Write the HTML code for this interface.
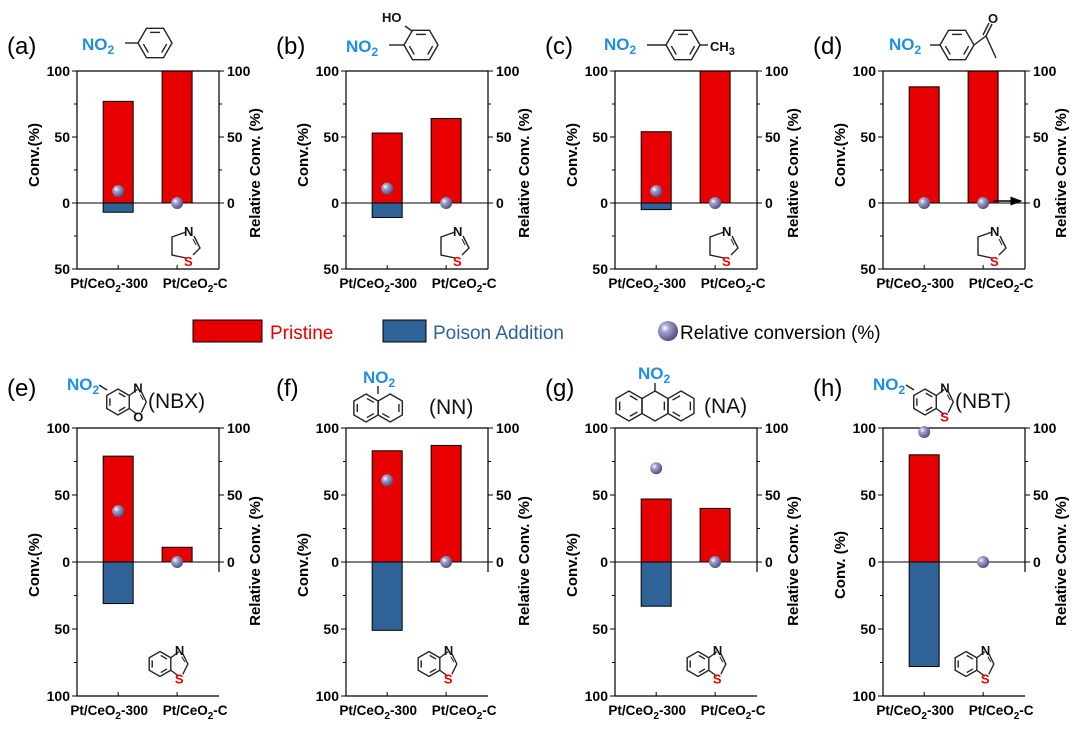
<!DOCTYPE html>
<html><head><meta charset="utf-8"><style>
body{margin:0;background:#fff}
svg{display:block;font-family:"Liberation Sans",Arial,sans-serif}
.tk{font-size:14px;font-weight:bold}
.ttl{font-size:15px;font-weight:bold}
.cat{font-size:13.5px;font-weight:bold}
.lbl{font-size:24px}
.no2{font-size:17px;font-weight:bold;fill:#1e8fe6}
.at{font-size:13px;font-weight:bold}
</style></head><body>
<svg id="c" width="1080" height="731" viewBox="0 0 1080 731" xmlns="http://www.w3.org/2000/svg">
<defs>
<radialGradient id="sph" cx="0.35" cy="0.35" r="0.7">
<stop offset="0" stop-color="#ffffff"/><stop offset="0.3" stop-color="#a3a3cc"/><stop offset="1" stop-color="#4a4a80"/>
</radialGradient>
<marker id="arr" markerWidth="8" markerHeight="6" refX="7" refY="3" orient="auto"><path d="M0,0 L8,3 L0,6 z" fill="#000"/></marker>
</defs>
<g id="legend">
<rect x="193" y="320" width="69" height="22" fill="#e60000" stroke="#000" stroke-width="1"/>
<text x="270" y="339" font-size="19" fill="#e60000">Pristine</text>
<rect x="383" y="320" width="43" height="22" fill="#2f6296" stroke="#000" stroke-width="1"/>
<text x="433" y="339" font-size="19" fill="#2f6296">Poison Addition</text>
<circle cx="668" cy="331" r="10" fill="url(#sph)"/>
<text x="680" y="339" font-size="19" fill="#000">Relative conversion (%)</text>
</g>
<g id="plots"></g>
<g id="mols" fill="none" stroke="#222" stroke-width="1.4"></g>
</svg>
<script>
const categories = ["Pt/CeO2-300","Pt/CeO2-C"];
const panelLabels = ["(a)","(b)","(c)","(d)","(e)","(f)","(g)","(h)"];
const pristine = [[77,100],[53,64],[54,100],[88,100],[79,11],[83,87],[47,40],[80,0]];
const poison = [[7,0],[11,0],[5,0],[0,0],[31,0],[51,0],[33,0],[78,0]];
const relative = [[9,0],[11,0],[9,0],[0,0],[38,0],[61,0],[70,0],[97,0]];
const topTicks = [100,50,0,-50];
const botTicks = [100,50,0,-50,-100];
const rightTicks = [100,50,0];

const NS="http://www.w3.org/2000/svg";
const plots=document.getElementById('plots');
function mk(tag,attrs,parent){const e=document.createElementNS(NS,tag);for(const k in attrs)e.setAttribute(k,attrs[k]);(parent||plots).appendChild(e);return e;}
const lefts=[77,346,615,883];
for(let p=0;p<8;p++){
  const row=p<4?0:1;
  const L=lefts[p%4], W=142, R=L+W;
  const top=row?428:71, zero=row?562:203, sc=row?1.34:1.32, ymin=row?-100:-50;
  const bottom=zero-ymin*sc;
  const y=v=>zero-v*sc;
  const x=i=>L+W*(0.29+0.415*i);
  const g=mk('g',{});
  
  
  const pl=mk('text',{x:L-70,y:row?396:54,class:'lbl'},g);pl.textContent=panelLabels[p];
  
  
  for(let i=0;i<2;i++){
    const bw=30;
    if(pristine[p][i]>0){const b=mk('rect',{x:x(i)-bw/2,y:y(pristine[p][i]),width:bw,height:pristine[p][i]*sc,fill:'#e60000',stroke:'#000','stroke-width':1},g);
      
      }
    if(poison[p][i]>0){const b=mk('rect',{x:x(i)-bw/2,y:zero,width:bw,height:poison[p][i]*sc,fill:'#2f6296',stroke:'#000','stroke-width':1},g);
      
      }
  }
  mk('line',{x1:L,x2:R,y1:zero,y2:zero,stroke:'#000','stroke-width':1},g);
  const rb=row?zero+10:bottom;
  mk('path',{d:`M${L},${top} L${R},${top} M${L},${top} L${L},${bottom} L${R},${bottom}`,fill:'none',stroke:'#000','stroke-width':1.2},g);
  mk('line',{x1:R,x2:R,y1:top,y2:rb,stroke:'#000','stroke-width':1.2},g);
  const ticks=row?botTicks:topTicks;
  for(let v=ymin;v<=100;v+=25){const major=v%50===0;
    mk('line',{x1:L-(major?5:3),x2:L,y1:y(v),y2:y(v),stroke:'#000','stroke-width':1},g);
    if(v>=0)mk('line',{x1:R,x2:R+(major?5:3),y1:y(v),y2:y(v),stroke:'#000','stroke-width':1},g);}
  ticks.forEach(v=>{const t=mk('text',{x:L-7,y:y(v)+5,class:'tk','text-anchor':'end'},g);t.textContent=Math.abs(v);
    
    });
  rightTicks.forEach(v=>{const t=mk('text',{x:R+8,y:y(v)+5,class:'tk'},g);t.textContent=v;
    
    });
  for(let i=0;i<2;i++){
    mk('line',{x1:x(i),x2:x(i),y1:bottom,y2:bottom-4,stroke:'#000'},g);
    const t=mk('text',{x:x(i)+(i?18:-9),y:bottom+19,class:'cat','text-anchor':'middle'},g);
    const parts=categories[i].split('O2');
    t.innerHTML=parts[0]+'O<tspan dy="4" font-size="10">2</tspan><tspan dy="-4">'+parts[1]+'</tspan>';
    
    
    const c=mk('circle',{cx:x(i),cy:y(relative[p][i]),r:6,fill:'url(#sph)'},g);
    
    
  }
  const cy=row?565:155;
  const ly=mk('text',{x:0,y:0,class:'ttl','text-anchor':'middle',transform:`translate(${L-38},${cy}) rotate(-90)`},g);
  ly.textContent=p===7?'Conv. (%)':'Conv.(%)';
  
  
  const ry=mk('text',{x:0,y:0,class:'ttl','text-anchor':'middle',transform:`translate(${R+41},${row?561:173}) rotate(-90)`},g);
  ry.textContent='Relative Conv. (%)';
  
  
  if(p===3)mk('line',{x1:x(1)+10,x2:R-4,y1:zero-2,y2:zero-2,stroke:'#000','stroke-width':1.5,'marker-end':'url(#arr)'},g);
}
// molecules
const mols=document.getElementById('mols');
function ml(tag,a){return mk(tag,a,mols);}
function ring(cx,cy,r,a0,dbl){const pts=[];for(let k=0;k<6;k++){const a=(a0+60*k)*Math.PI/180;pts.push([cx+r*Math.cos(a),cy+r*Math.sin(a)]);}
  ml('polygon',{points:pts.map(q=>q.join(',')).join(' ')});
  (dbl||[]).forEach(k=>{const A=pts[k],B=pts[(k+1)%6];const s=0.72;const f=q=>[cx+(q[0]-cx)*s,cy+(q[1]-cy)*s];const a=f(A),b=f(B);
    ml('line',{x1:a[0]+(b[0]-a[0])*.1,y1:a[1]+(b[1]-a[1])*.1,x2:b[0]-(b[0]-a[0])*.1,y2:b[1]-(b[1]-a[1])*.1});});
  return pts;}
function txt(x,y,s,cls,fill){const t=ml('text',{x:x,y:y,class:cls,stroke:'none',fill:fill||'#111'});t.innerHTML=s;return t;}
const N2='NO<tspan dy="4" font-size="12">2</tspan>';
// (a)
txt(82,50,N2,'no2');ml('line',{x1:125,y1:43,x2:138,y2:43});ring(155,43,17,0,[0,2,4]);
// (b)
txt(346,52,N2,'no2');ml('line',{x1:389,y1:45,x2:404,y2:45});ring(421,45,17,0,[0,2,4]);txt(382,22,'HO','at').setAttribute('font-size','15');ml('line',{x1:405,y1:26,x2:412,y2:31});
// (c)
txt(604,50,N2,'no2');ml('line',{x1:647,y1:45,x2:666,y2:45});ring(683,45,17,0,[0,2,4]);ml('line',{x1:700,y1:45,x2:708,y2:45});
txt(710,51,'CH<tspan dy="4" font-size="11">3</tspan>','at').setAttribute('font-size','16');
// (d)
txt(889,50,N2,'no2');ml('line',{x1:930,y1:45,x2:940,y2:45});ring(957,45,17,0,[0,2,4]);
ml('polyline',{points:'974,45 986,36 996,58'});ml('line',{x1:986,y1:36,x2:992,y2:24});ml('line',{x1:983,y1:35,x2:989,y2:23});txt(988,23,'O','at').setAttribute('font-size','16');
// thiazoline icons top
lefts.forEach(L=>{const o=L-77;ml('polyline',{points:`${186+o},${232} ${172+o},${237} ${172+o},${255} ${186+o},${258}`});
  ml('polyline',{points:`${194+o},${236} ${200+o},${248} ${193+o},${255}`});ml('line',{x1:196+o,y1:245,x2:193+o,y2:239,'stroke-width':1});
  txt(184+o,236,'N','at').setAttribute('font-size','15');txt(184+o,266,'S','at','#e00').setAttribute('font-size','15');});
// benzo-fused 5 ring
function benzo5(cx,cy,r,het,hcol){const pts=ring(cx,cy,r,-90,[0,2,4]);const a=pts[1],b=pts[2];
  ml('polyline',{points:`${a[0]},${a[1]} ${a[0]+8},${a[1]-6}`});ml('polyline',{points:`${b[0]},${b[1]} ${b[0]+8},${b[1]+6}`});
  ml('polyline',{points:`${a[0]+12},${a[1]-4} ${a[0]+17},${cy} ${b[0]+12},${b[1]+4}`});ml('line',{x1:a[0]+14,y1:cy-2,x2:a[0]+11,y2:a[1]-1,'stroke-width':1});
  txt(a[0]+4,a[1]-3,'N','at').setAttribute('font-size','15');txt(b[0]+4,b[1]+13,het,'at',hcol).setAttribute('font-size','15');return pts;}
// (e)
txt(67,390,N2,'no2');ml('line',{x1:99,y1:385,x2:107,y2:390});benzo5(118,402,13,'O','#111');txt(148,408,'(NBX)','').setAttribute('font-size','21');
// (h)
txt(873,390,N2,'no2');ml('line',{x1:906,y1:385,x2:914,y2:390});benzo5(925,402,13,'S','#e00');txt(955,408,'(NBT)','').setAttribute('font-size','21');
// (f) naphthalene
ring(366,408,14,-90,[0,2,4]);ring(390.2,408,14,-90,[1,3]);txt(363,383,N2,'no2');ml('line',{x1:378,y1:386,x2:378,y2:394});txt(429,414,'(NN)','').setAttribute('font-size','21');
// (g) anthracene
ring(629,406,15,-90,[0,2,4]);ring(655,406,15,-90,[1]);ring(681,406,15,-90,[1,3,5]);txt(638,379,N2,'no2');ml('line',{x1:655,y1:383,x2:655,y2:391});txt(704,413,'(NA)','').setAttribute('font-size','21');
// benzothiazole icons bottom
lefts.forEach(L=>{benzo5(160+(L-77),664,12.5,'S','#e00');});
</script>
</body></html>
